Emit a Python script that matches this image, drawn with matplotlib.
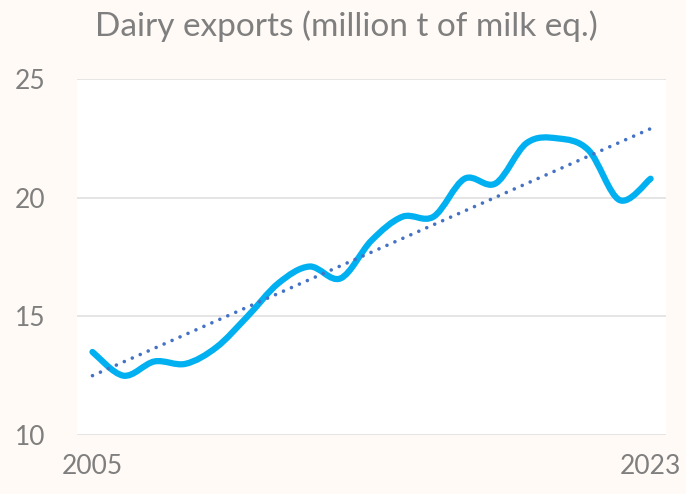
import numpy as np
import matplotlib.pyplot as plt
from matplotlib.path import Path
from matplotlib.patches import PathPatch

# Dairy exports, million t of milk equivalent
years = list(range(2005, 2024))
exports = [13.5, 12.5, 13.1, 13.0, 13.7, 15.0, 16.4, 17.1, 16.6, 18.2,
           19.2, 19.2, 20.8, 20.6, 22.3, 22.5, 22.0, 19.9, 20.8]
y_ticks = [10, 15, 20, 25]
x_labels = ["2005", "2023"]

BG = "#FFFAF5"
TXT = "#7F7F7F"
LINE = "#00B0F0"
TREND = "#4472C4"

plt.rcParams['font.family'] = ['Lato', 'DejaVu Sans']

fig = plt.figure(figsize=(6.86, 4.94), dpi=100, facecolor=BG)
ax = fig.add_axes([0.1122, 0.1194, 0.8588, 0.7206])
ax.set_facecolor("white")

x = np.arange(len(years), dtype=float)
y = np.array(exports)

# smoothed line (Excel style): cubic bezier segments through each point
verts = [(x[0], y[0])]
codes = [Path.MOVETO]
for i in range(len(x) - 1):
    p0 = np.array([x[max(i - 1, 0)], y[max(i - 1, 0)]])
    p1 = np.array([x[i], y[i]])
    p2 = np.array([x[i + 1], y[i + 1]])
    p3 = np.array([x[min(i + 2, len(x) - 1)], y[min(i + 2, len(x) - 1)]])
    c1 = p1 + (p2 - p0) / 6
    c2 = p2 - (p3 - p1) / 6
    verts += [tuple(c1), tuple(c2), tuple(p2)]
    codes += [Path.CURVE4] * 3
ax.add_patch(PathPatch(Path(verts, codes), facecolor="none", edgecolor=LINE,
                       lw=4.5, capstyle="round", joinstyle="round", zorder=3))

# linear trend
k, b = np.polyfit(x, y, 1)
ax.plot(x, k * x + b, color=TREND, lw=2.6, linestyle=(0, (0.01, 2.4)),
        dash_capstyle="round", zorder=4)

ax.set_xlim(-0.5, len(x) - 0.5)
ax.set_ylim(10, 25)
ax.set_yticks(y_ticks)
ax.set_yticklabels([str(t) for t in y_ticks])
ax.set_xticks([0, len(x) - 1])
ax.set_xticklabels(x_labels)
ax.tick_params(axis="both", length=0, colors=TXT, labelsize=19)
ax.tick_params(axis="y", pad=23)
ax.tick_params(axis="x", pad=14)

ax.grid(axis="y", color="#E3E3E3", lw=1.3)
ax.set_axisbelow(True)
for s in ax.spines.values():
    s.set_visible(False)

fig.text(0.505, 0.947, "Dairy exports (million t of milk eq.)", ha="center",
         va="center", color=TXT, fontsize=24)

fig.savefig("out.png", dpi=100, facecolor=BG)
